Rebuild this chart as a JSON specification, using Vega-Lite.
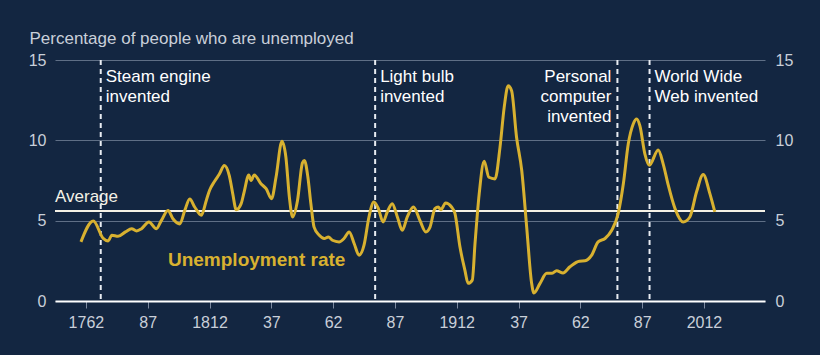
{
  "$schema": "https://vega.github.io/schema/vega-lite/v6.json",
  "width": 710,
  "height": 241,
  "autosize": {"type": "none"},
  "padding": {"left": 55, "top": 60, "right": 55, "bottom": 54},
  "background": "#132641",
  "config": {
    "view": {"stroke": null},
    "font": "Liberation Sans",
    "axis": {"labelFont": "Liberation Sans", "titleFont": "Liberation Sans"}
  },
  "datasets": {
    "rate": [
      {"year": 1760, "rate": 3.68}, {"year": 1765, "rate": 4.98}, {"year": 1769, "rate": 3.9},
      {"year": 1771, "rate": 3.74}, {"year": 1772.5, "rate": 4.1}, {"year": 1775, "rate": 4.03},
      {"year": 1778, "rate": 4.3}, {"year": 1780.5, "rate": 4.5}, {"year": 1782.5, "rate": 4.36},
      {"year": 1784.5, "rate": 4.5}, {"year": 1787.5, "rate": 4.92}, {"year": 1790.5, "rate": 4.5},
      {"year": 1792.5, "rate": 5.0}, {"year": 1795.2, "rate": 5.64}, {"year": 1797.2, "rate": 5.12},
      {"year": 1800, "rate": 4.8}, {"year": 1802, "rate": 5.64}, {"year": 1804, "rate": 6.35},
      {"year": 1806, "rate": 5.85}, {"year": 1808.7, "rate": 5.33}, {"year": 1810.7, "rate": 6.26},
      {"year": 1812, "rate": 6.88}, {"year": 1814, "rate": 7.44}, {"year": 1816, "rate": 7.9},
      {"year": 1818, "rate": 8.43}, {"year": 1820, "rate": 7.8}, {"year": 1821.4, "rate": 6.68},
      {"year": 1822.8, "rate": 5.68}, {"year": 1824.8, "rate": 6.06}, {"year": 1826, "rate": 6.78},
      {"year": 1827.9, "rate": 7.85}, {"year": 1828.8, "rate": 7.5}, {"year": 1830.1, "rate": 7.85},
      {"year": 1832.8, "rate": 7.3}, {"year": 1834.9, "rate": 6.99}, {"year": 1837.1, "rate": 6.37},
      {"year": 1838.9, "rate": 7.7}, {"year": 1841.3, "rate": 9.94}, {"year": 1842.9, "rate": 8.95},
      {"year": 1844.3, "rate": 6.47}, {"year": 1845.6, "rate": 5.23}, {"year": 1847.6, "rate": 6.26},
      {"year": 1849.6, "rate": 8.6}, {"year": 1850.4, "rate": 8.74}, {"year": 1851.8, "rate": 7.7},
      {"year": 1853, "rate": 6.06}, {"year": 1854.3, "rate": 4.6}, {"year": 1856.4, "rate": 4.09},
      {"year": 1858.4, "rate": 3.89}, {"year": 1860.1, "rate": 3.99}, {"year": 1861.7, "rate": 3.78},
      {"year": 1864.4, "rate": 3.68}, {"year": 1866.4, "rate": 3.89}, {"year": 1868.5, "rate": 4.3},
      {"year": 1870.5, "rate": 3.58}, {"year": 1872.5, "rate": 2.85}, {"year": 1874.5, "rate": 3.47},
      {"year": 1876.5, "rate": 5.23}, {"year": 1878.5, "rate": 6.16}, {"year": 1880.3, "rate": 5.75},
      {"year": 1882.2, "rate": 4.92}, {"year": 1883.9, "rate": 5.54}, {"year": 1885.9, "rate": 6.06},
      {"year": 1888, "rate": 5.23}, {"year": 1890, "rate": 4.4}, {"year": 1892, "rate": 5.23},
      {"year": 1894.5, "rate": 5.85}, {"year": 1897.1, "rate": 5.02}, {"year": 1899.5, "rate": 4.3},
      {"year": 1901.2, "rate": 4.6}, {"year": 1903.2, "rate": 5.75}, {"year": 1904.5, "rate": 5.85},
      {"year": 1905.6, "rate": 5.68}, {"year": 1907.5, "rate": 6.1}, {"year": 1909.9, "rate": 5.85},
      {"year": 1911.3, "rate": 5.44}, {"year": 1913.3, "rate": 3.37}, {"year": 1915.3, "rate": 1.92},
      {"year": 1916.6, "rate": 1.1}, {"year": 1918.3, "rate": 1.3}, {"year": 1919.4, "rate": 3.58},
      {"year": 1921.1, "rate": 6.68}, {"year": 1923.1, "rate": 8.7}, {"year": 1925, "rate": 7.7},
      {"year": 1927.5, "rate": 7.6}, {"year": 1929.5, "rate": 9.56}, {"year": 1931.2, "rate": 12.05},
      {"year": 1932.8, "rate": 13.39}, {"year": 1934.2, "rate": 13.08}, {"year": 1936.2, "rate": 10.19},
      {"year": 1938.3, "rate": 8.12}, {"year": 1940.3, "rate": 4.6}, {"year": 1942.3, "rate": 1.1},
      {"year": 1943.2, "rate": 0.5}, {"year": 1945.7, "rate": 1.1}, {"year": 1948.4, "rate": 1.72},
      {"year": 1950.4, "rate": 1.72}, {"year": 1952.4, "rate": 1.88}, {"year": 1955, "rate": 1.75},
      {"year": 1957.8, "rate": 2.13}, {"year": 1961.6, "rate": 2.48}, {"year": 1963.9, "rate": 2.5},
      {"year": 1966.6, "rate": 2.85}, {"year": 1969.2, "rate": 3.68}, {"year": 1972, "rate": 3.89},
      {"year": 1974.7, "rate": 4.4}, {"year": 1977.3, "rate": 5.44}, {"year": 1979.4, "rate": 7.3},
      {"year": 1981.4, "rate": 9.78}, {"year": 1983.4, "rate": 11.02}, {"year": 1984.8, "rate": 11.33},
      {"year": 1986.1, "rate": 10.9}, {"year": 1988.1, "rate": 9.16}, {"year": 1989.9, "rate": 8.45},
      {"year": 1993.5, "rate": 9.4}, {"year": 1995.5, "rate": 8.54}, {"year": 1997.6, "rate": 7.19},
      {"year": 2000.3, "rate": 5.75}, {"year": 2003.6, "rate": 4.92}, {"year": 2006.3, "rate": 5.23},
      {"year": 2009, "rate": 6.78}, {"year": 2011.7, "rate": 7.87}, {"year": 2014.4, "rate": 6.68},
      {"year": 2016.4, "rate": 5.54}
    ],
    "events": [
      {"year": 1768, "label": "Steam engine\ninvented", "side": "right"},
      {"year": 1879, "label": "Light bulb\ninvented", "side": "right"},
      {"year": 1977, "label": "Personal\ncomputer\ninvented", "side": "left"},
      {"year": 1990, "label": "World Wide\nWeb invented", "side": "right"}
    ]
  },
  "resolve": {"axis": {"y": "independent"}},
  "layer": [
    {
      "data": {"values": [{"avg": 5.6}]},
      "mark": {"type": "rule", "color": "#f4f1e6", "strokeWidth": 2},
      "encoding": {
        "y": {
          "field": "avg", "type": "quantitative",
          "scale": {"domain": [0, 15], "nice": false},
          "axis": {
            "orient": "right", "values": [0, 5, 10, 15], "grid": false, "ticks": false, "domain": false,
            "labelPadding": 10, "labelFontSize": 16, "labelColor": "#c9cfd9", "title": null
          }
        }
      }
    },
    {
      "data": {"name": "events"},
      "mark": {"type": "rule", "color": "#e8ecf2", "strokeWidth": 2, "strokeDash": [5, 4]},
      "encoding": {
        "x": {"field": "year", "type": "quantitative"}
      }
    },
    {
      "data": {"name": "rate"},
      "mark": {"type": "line", "color": "#d8b130", "strokeWidth": 3, "interpolate": "monotone"},
      "encoding": {
        "x": {
          "field": "year", "type": "quantitative",
          "scale": {"domain": [1749.5, 2036.7], "nice": false, "zero": false},
          "axis": {
            "values": [1762, 1787, 1812, 1837, 1862, 1887, 1912, 1937, 1962, 1987, 2012],
            "labelExpr": "(datum.value == 1762 || datum.value == 1812 || datum.value == 1912 || datum.value == 2012) ? '' + datum.value : substring('' + datum.value, 2, 4)",
            "grid": false, "domainColor": "#ffffff", "domainWidth": 2,
            "tickColor": "#7d8aa0", "tickSize": 7, "tickWidth": 1,
            "labelFontSize": 16, "labelColor": "#c9cfd9", "labelPadding": 6,
            "title": null, "zindex": 1
          }
        },
        "y": {
          "field": "rate", "type": "quantitative",
          "scale": {"domain": [0, 15], "nice": false},
          "axis": {
            "values": [0, 5, 10, 15], "grid": true, "gridColor": "#5f6f86", "gridWidth": 1.2,
            "ticks": false, "domain": false, "labelPadding": 9, "labelFontSize": 16, "labelColor": "#c9cfd9",
            "title": "Percentage of people who are unemployed", "titleAngle": 0, "titleAlign": "left",
            "titleBaseline": "alphabetic", "titleX": -26, "titleY": -17, "titleFontSize": 17,
            "titleFontWeight": "normal", "titleColor": "#c9cfd9"
          }
        }
      }
    },
    {
      "data": {"name": "events"},
      "transform": [{"filter": "datum.side == 'right'"}],
      "mark": {"type": "text", "align": "left", "baseline": "top", "dx": 5, "dy": 9, "fontSize": 17, "lineBreak": "\n", "lineHeight": 20, "color": "#ffffff"},
      "encoding": {
        "x": {"field": "year", "type": "quantitative"},
        "y": {"datum": 15, "axis": null},
        "text": {"field": "label"}
      }
    },
    {
      "data": {"name": "events"},
      "transform": [{"filter": "datum.side == 'left'"}],
      "mark": {"type": "text", "align": "right", "baseline": "top", "dx": -6, "dy": 9, "fontSize": 17, "lineBreak": "\n", "lineHeight": 20, "color": "#ffffff"},
      "encoding": {
        "x": {"field": "year", "type": "quantitative"},
        "y": {"datum": 15, "axis": null},
        "text": {"field": "label"}
      }
    },
    {
      "data": {"values": [{"year": 1749.5, "value": 5.6, "label": "Average"}]},
      "mark": {"type": "text", "align": "left", "baseline": "alphabetic", "dy": -9, "fontSize": 17, "color": "#f4f1e6"},
      "encoding": {
        "x": {"field": "year", "type": "quantitative"},
        "y": {"field": "value", "type": "quantitative", "axis": null},
        "text": {"field": "label"}
      }
    },
    {
      "data": {"values": [{"year": 1795.2, "value": 2.18, "label": "Unemployment rate"}]},
      "mark": {"type": "text", "align": "left", "baseline": "alphabetic", "fontSize": 19, "fontWeight": "bold", "color": "#d8b130"},
      "encoding": {
        "x": {"field": "year", "type": "quantitative"},
        "y": {"field": "value", "type": "quantitative", "axis": null},
        "text": {"field": "label"}
      }
    }
  ]
}
